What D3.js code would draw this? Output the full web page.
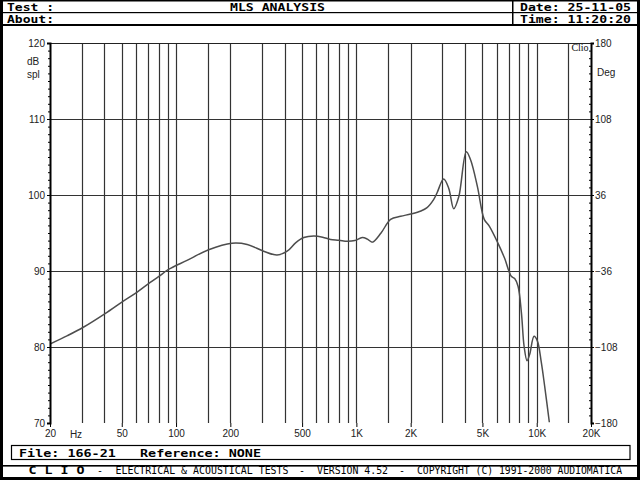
<!DOCTYPE html>
<html><head><meta charset="utf-8">
<script src="https://cdn.jsdelivr.net/npm/d3@7"></script>
<style>html,body{margin:0;padding:0;background:#fff;}svg{display:block;}</style>
</head><body>
<script>
// ---- data ----
const freqs = [20,25,30.6,40.4,51,60.6,71.9,80,90.8,115,151.6,204,248,306,363,413,460,511,581,650,719,800,890,980,1078,1150,1226,1370,1548,1760,2000,2281,2455,2681,2803,3046,3250,3468,3700,4069,4302,4690,5117,5457,6085,6630,7228,7547,7880,8226,8511,8838,9134,9663,10080,10600,11060,11750];
const spl   = [80.4,81.5,82.6,84.4,86.05,87.2,88.5,89.25,90.2,91.4,92.8,93.66,93.5,92.6,92.1,92.6,93.7,94.4,94.6,94.45,94.15,94.05,93.9,94.0,94.4,94.2,93.8,95.0,96.8,97.2,97.5,97.9,98.3,99.4,100.3,102.1,100.9,98.2,99.8,105.7,104.6,101.1,96.8,95.9,93.7,91.7,89.3,89.0,88.0,84.5,80.1,78.2,79.0,81.4,80.8,78.0,74.9,70.1];
const gridFreqs = [30,40,50,60,70,80,90,100,150,200,300,400,500,600,700,800,900,1000,1500,2000,3000,4000,5000,6000,7000,8000,9000,10000,15000];
const xTickVals = [20,50,100,200,500,1000,2000,5000,10000,20000];
const xTickLabels = ["20","50","100","200","500","1K","2K","5K","10K","20K"];
const yTicks = [70,80,90,100,110,120];
const yRightTicks = [-180,-108,-36,36,108,180];

const W=640,H=480;
const L=50,R=591,T=43,B=423;
const svg=d3.select("body").append("svg").attr("width",W).attr("height",H);
svg.append("rect").attr("width",W).attr("height",H).attr("fill","#fff");

const x=d3.scaleLog().domain([20,20000]).range([L,R]);
const y=d3.scaleLinear().domain([70,120]).range([B,T]);
const yR=d3.scaleLinear().domain([-180,180]).range([B,T]);

const mono="'DejaVu Sans Mono', monospace";
const sans="'Liberation Sans', Arial, sans-serif";

// grid
const g=svg.append("g");
g.selectAll("line.v").data(gridFreqs).enter().append("line")
  .attr("x1",d=>Math.round(x(d))+0.5).attr("x2",d=>Math.round(x(d))+0.5)
  .attr("y1",T).attr("y2",B).attr("stroke","#333").attr("stroke-width",1.2);
g.selectAll("line.h").data([80,90,100,110]).enter().append("line")
  .attr("x1",L).attr("x2",R).attr("y1",d=>Math.round(y(d))+0.5).attr("y2",d=>Math.round(y(d))+0.5)
  .attr("stroke","#333").attr("stroke-width",1.2);
// top border
svg.append("line").attr("x1",L).attr("x2",R).attr("y1",T+0.5).attr("y2",T+0.5).attr("stroke","#222").attr("stroke-width",1.2);

// Clio label
svg.append("text").attr("x",580).attr("y",51).attr("text-anchor","middle")
  .attr("font-family","'Liberation Serif', serif").attr("font-size",10).attr("fill","#111").text("Clio");

// curve
svg.append("clipPath").attr("id","pc").append("rect").attr("x",L).attr("y",T).attr("width",R-L).attr("height",B-T);
const pts=freqs.map((f,i)=>[x(f),y(spl[i])]);
svg.append("path").attr("clip-path","url(#pc)").attr("d",d3.line().curve(d3.curveCatmullRom.alpha(0.5))(pts))
  .attr("fill","none").attr("stroke","#4d4d4d").attr("stroke-width",1.5);

// left axis
const ax=svg.append("g").attr("transform",`translate(${L},0)`)
  .call(d3.axisLeft(y).tickValues(yTicks).tickSize(3).tickPadding(2).tickFormat(d3.format("d")));
ax.select(".domain").attr("stroke","#000").attr("stroke-width",2);
ax.selectAll("text").attr("font-family",sans).attr("font-size",10).attr("fill","#222");
const axm=svg.append("g").attr("transform",`translate(${L},0)`)
  .call(d3.axisLeft(y).tickValues(d3.range(71,120,1).filter(v=>v%10)).tickSize(2).tickFormat(""));
axm.select(".domain").remove();
// right axis
const ar=svg.append("g").attr("transform",`translate(${R},0)`)
  .call(d3.axisRight(yR).tickValues(yRightTicks).tickSize(3).tickPadding(1).tickFormat(d3.format("d")));
ar.select(".domain").attr("stroke","#000").attr("stroke-width",2);
ar.selectAll("text").attr("font-family",sans).attr("font-size",10).attr("fill","#222");
const arm=svg.append("g").attr("transform",`translate(${R},0)`)
  .call(d3.axisLeft(y).tickValues(d3.range(71,120,1).filter(v=>v%10)).tickSize(2).tickFormat(""));
arm.select(".domain").remove();
// bottom axis
const ab=svg.append("g").attr("transform",`translate(0,${B})`)
  .call(d3.axisBottom(x).tickValues(xTickVals).tickSize(4).tickPadding(3).tickFormat((d,i)=>xTickLabels[i]));
ab.select(".domain").remove();
ab.selectAll("text").attr("font-family",sans).attr("font-size",10).attr("fill","#222");
svg.selectAll(".tick line").attr("stroke","#000");

// axis titles
const at=(t,xx,yy,anchor)=>svg.append("text").attr("x",xx).attr("y",yy).attr("text-anchor",anchor||"start")
  .attr("font-family",sans).attr("font-size",10).attr("fill","#222").text(t);
at("dB",27,65); at("spl",27,77.5); at("Deg",597,76); at("Hz",76,437.5,"middle");

// frame / header
const blk=(xx,yy,w,h)=>svg.append("rect").attr("x",xx).attr("y",yy).attr("width",w).attr("height",h).attr("fill","#000");
blk(0,0,3,H); blk(637,0,3,H); blk(0,477,W,3); blk(0,0,W,1.5);
blk(3,12,634,1.2); blk(3,24,634,2); blk(512,0,1.5,25);
svg.append("rect").attr("x",11.5).attr("y",445.5).attr("width",618.5).attr("height",14).attr("fill","none").attr("stroke","#000").attr("stroke-width",1.2);
blk(3,465,634,1.6);

const tx=(t,xx,yy,len,opts={})=>svg.append("text").attr("x",xx).attr("y",yy)
  .attr("font-family",mono).attr("font-size",opts.size||11).attr("font-weight",opts.weight||"bold")
  .attr("text-anchor",opts.anchor||"start").attr("fill","#000").attr("xml:space","preserve")
  .style("white-space","pre")
  .attr("textLength",len).attr("lengthAdjust","spacingAndGlyphs").text(t);
tx("Test :",7,10.5,47);
tx("About:",7,22.5,47);
tx("MLS ANALYSIS",230,10.5,95);
tx("Date: 25-11-05",520,10.5,111);
tx("Time: 11:20:20",520,22.5,111);
tx("File: 166-21   Reference: NONE",19,456.5,242);
tx("C L I O",28.5,474,56);
tx("-",97,474,6,{weight:"normal",size:10});
tx("ELECTRICAL & ACOUSTICAL TESTS",115.5,474,173,{weight:"normal",size:10});
tx("-",299,474,6,{weight:"normal",size:10});
tx("VERSION 4.52",317,474,71,{weight:"normal",size:10});
tx("-",399,474,6,{weight:"normal",size:10});
tx("COPYRIGHT (C) 1991-2000 AUDIOMATICA",417,474,205,{weight:"normal",size:10});
</script>
</body></html>
